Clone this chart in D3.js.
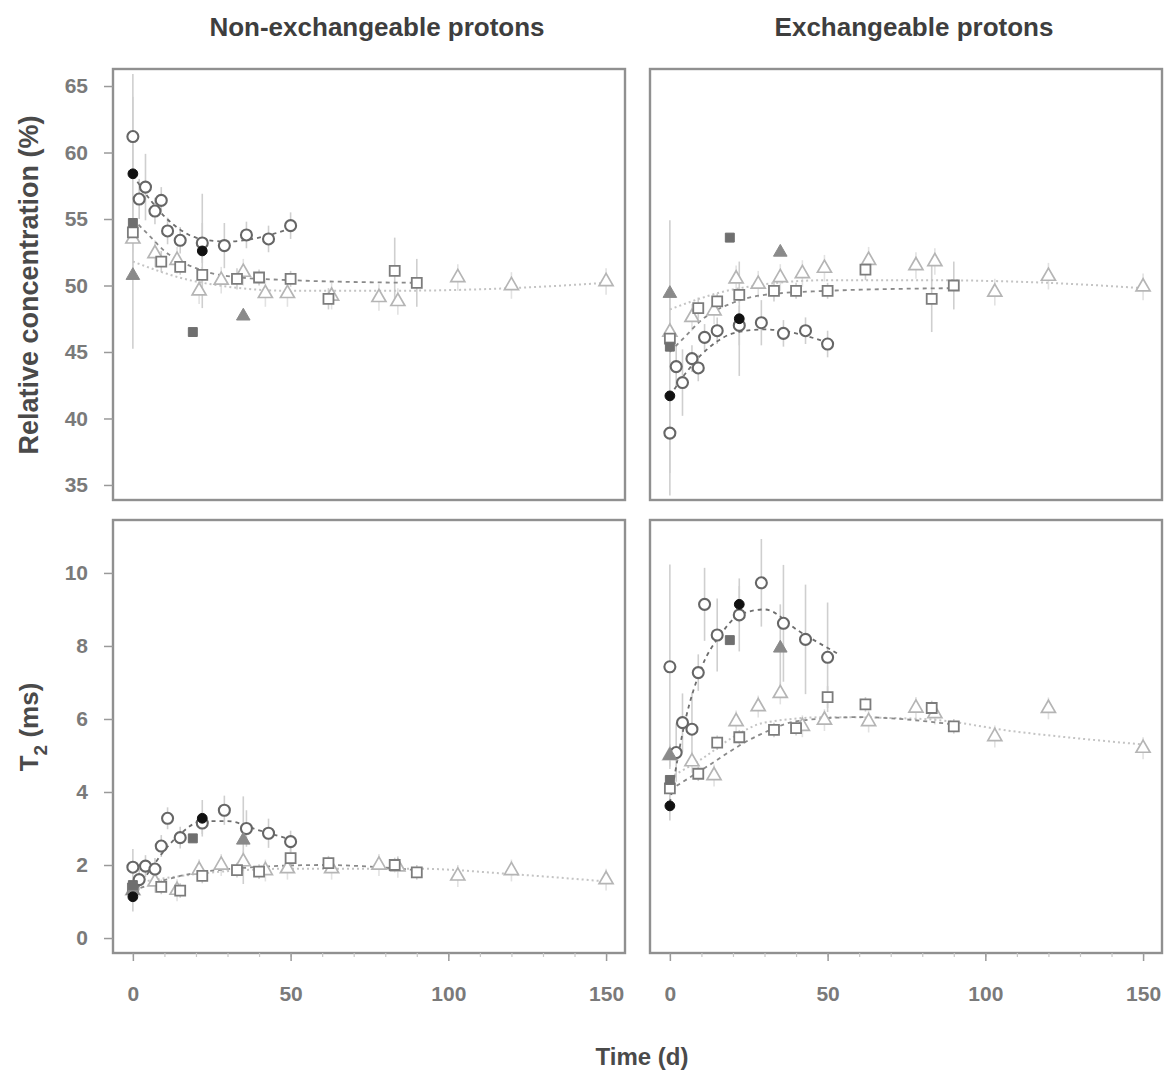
<!DOCTYPE html>
<meta charset="utf-8">
<style>
 body { margin: 0; background: #fff; }
 text { font-family: "Liberation Sans", Arial, sans-serif; font-weight: bold; }
</style>
<body>
<svg></svg>
<script src="https://cdn.jsdelivr.net/npm/d3@7"></script>
<script>

	// DATA ------------------------------------------------------------
	// open circles (sampled for 50 days)
	var circDays   = [0, 2, 4, 7, 9, 11, 15, 22, 29, 36, 43, 50];
	var circNE     = [61.2, 56.5, 57.4, 55.6, 56.4, 54.1, 53.4, 53.2, 53.0, 53.8, 53.5, 54.5];
	var circEX     = [38.9, 43.9, 42.7, 44.5, 43.8, 46.1, 46.6, 47.0, 47.2, 46.4, 46.6, 45.6];
	var circT2NE   = [1.94, 1.6, 1.97, 1.89, 2.52, 3.28, 2.75, 3.15, 3.5, 3.0, 2.87, 2.64];
	var circT2EX   = [7.43, 5.08, 5.9, 5.72, 7.27, 9.14, 8.3, 8.85, 9.73, 8.62, 8.18, 7.69];
	var circErrC   = [3, 1.5, 2.5, 1, 1, 1, 1, 1.5, 1.7, 1, 1, 1];
	var circErrT2NE = [0.5, 0.3, 0.3, 0.3, 0.3, 0.3, 0.3, 0.3, 0.4, 0.5, 0.4, 0.3];
	var circErrT2EX = [2.8, 0.8, 0.8, 1, 0.5, 1, 1, 1, 1.2, 1.6, 1.5, 1.5];

	// open squares (sampled for 90 days)
	var sqDays     = [0, 9, 15, 22, 33, 40, 50, 62, 83, 90];
	var sqNE       = [54.0, 51.8, 51.4, 50.8, 50.5, 50.6, 50.5, 49.0, 51.1, 50.2];
	var sqEX       = [46.0, 48.3, 48.8, 49.3, 49.6, 49.6, 49.6, 51.2, 49.0, 50.0];
	var sqT2NE     = [1.35, 1.4, 1.3, 1.7, 1.86, 1.82, 2.19, 2.05, 2.0, 1.8];
	var sqT2EX     = [4.1, 4.5, 5.35, 5.5, 5.7, 5.75, 6.6, 6.4, 6.3, 5.8];
	var sqErrC     = [0.8, 0.8, 0.6, 0.6, 0.8, 0.6, 0.6, 0.8, 2.5, 1.8];
	var sqErrT2    = [0.2, 0.2, 0.2, 0.2, 0.2, 0.2, 0.3, 0.2, 0.2, 0.2];

	// open triangles (sampled for 150 days)
	var triDays    = [0, 7, 14, 21, 28, 35, 42, 49, 63, 78, 84, 103, 120, 150];
	var triNE      = [53.5, 52.4, 51.9, 49.6, 50.4, 51.0, 49.4, 49.4, 49.2, 49.1, 48.8, 50.6, 50.0, 50.3];
	var triEX      = [46.5, 47.6, 48.1, 50.5, 50.1, 50.6, 50.9, 51.3, 51.9, 51.5, 51.8, 49.5, 50.7, 49.9];
	var triT2NE    = [1.3, 1.54, 1.31, 1.86, 2.0, 2.09, 1.85, 1.9, 1.9, 2.0, 1.95, 1.7, 1.85, 1.6];
	var triT2EX    = [5.0, 4.83, 4.45, 5.93, 6.34, 6.7, 5.8, 5.97, 5.93, 6.3, 6.15, 5.52, 6.29, 5.2];
	var triErrC    = [1, 1, 1, 1, 1, 1, 1, 1, 1, 1, 1, 1, 1, 1];
	var triErrT2   = [0.3, 0.3, 0.3, 0.3, 0.3, 0.3, 0.3, 0.3, 0.3, 0.3, 0.3, 0.3, 0.3, 0.3];

	// filled markers
	var blackDays  = [0, 22];
	var blackNE    = [58.4, 52.6];
	var blackEX    = [41.7, 47.5];
	var blackT2NE  = [1.13, 3.28];
	var blackT2EX  = [3.62, 9.14];
	var blackErrC  = [7.5, 4.3];
	var blackErrT2 = [0.4, 0.5];

	var gsqDays    = [0, 19];
	var gsqNE      = [54.7, 46.5];
	var gsqEX      = [45.4, 53.6];
	var gsqT2NE    = [1.45, 2.73];
	var gsqT2EX    = [4.33, 8.16];

	var gtriDays   = [0, 35];
	var gtriNE     = [50.75, 47.7];
	var gtriEX     = [49.4, 52.5];
	var gtriT2NE   = [1.3, 2.68];
	var gtriT2EX   = [5.0, 7.94];
	var gtriErrC   = [5.5, 0];
	var gtriErrT2  = [0.3, 1.2];

	// fitted curves as [day, value]
	var fitCircNE  = [[0,58.3],[5,56.6],[10,55.2],[15,54.2],[20,53.6],[30,53.3],[40,53.6],[50,54.3]];
	var fitSqNE    = [[0,55.0],[5,53.8],[10,52.6],[20,51.3],[30,50.7],[50,50.4],[90,50.2]];
	var fitTriNE   = [[0,51.8],[20,50.3],[50,49.6],[80,49.6],[120,49.8],[150,50.2]];
	var fitCircEX  = [[0,41.7],[5,43.4],[10,44.8],[15,45.8],[20,46.4],[30,46.7],[40,46.4],[50,45.7]];
	var fitSqEX    = [[0,45.0],[5,46.2],[10,47.4],[20,48.7],[30,49.3],[50,49.6],[90,49.8]];
	var fitTriEX   = [[0,48.2],[20,49.7],[50,50.4],[80,50.4],[120,50.2],[150,49.8]];
	var fitCircT2NE = [[0,1.2],[5,1.8],[10,2.4],[15,2.85],[22,3.2],[30,3.2],[40,2.95],[50,2.7]];
	var fitSqT2NE  = [[0,1.3],[15,1.7],[35,1.92],[60,2.0],[90,1.86]];
	var fitTriT2NE = [[0,1.5],[20,1.75],[50,1.9],[90,1.9],[120,1.75],[150,1.55]];
	var fitCircT2EX = [[0,3.7],[5,6.0],[10,7.4],[16,8.3],[22,8.85],[30,9.0],[41,8.4],[54,7.75]];
	var fitSqT2EX  = [[0,4.05],[10,4.6],[28,5.55],[41,5.95],[60,6.05],[90,5.85]];
	var fitTriT2EX = [[0,4.4],[10,4.9],[20,5.5],[30,5.9],[50,6.05],[80,6.0],[110,5.65],[150,5.3]];

	var concTicks = [35, 40, 45, 50, 55, 60, 65];
	var t2Ticks   = [0, 2, 4, 6, 8, 10];
	var dayTicks  = [0, 50, 100, 150];
	var dayMinor  = d3.range(0, 151, 10);
	var titles    = ["Non-exchangeable protons", "Exchangeable protons"];

	// LAYOUT ----------------------------------------------------------
	var width = 1170, height = 1080;
	var svg = d3.select("svg")
			.attr("width", width)
			.attr("height", height);

	var colX = [113, 650], panelW = 512;
	var rowY = [69, 520], rowH = [431, 433];
	var xDomain = [-6.3, 156];
	var yDomains = [[33.87, 66.28], [-0.41, 11.45]];

	var panels = [
		{col:0, row:0, circ:circNE, circErr:circErrC, sq:sqNE, sqErr:sqErrC, tri:triNE, triErr:triErrC,
		 black:blackNE, blackErr:blackErrC, gsq:gsqNE, gtri:gtriNE, gtriErr:gtriErrC,
		 fits:[fitTriNE, fitSqNE, fitCircNE], ticks:concTicks},
		{col:1, row:0, circ:circEX, circErr:circErrC, sq:sqEX, sqErr:sqErrC, tri:triEX, triErr:triErrC,
		 black:blackEX, blackErr:blackErrC, gsq:gsqEX, gtri:gtriEX, gtriErr:gtriErrC,
		 fits:[fitTriEX, fitSqEX, fitCircEX], ticks:concTicks},
		{col:0, row:1, circ:circT2NE, circErr:circErrT2NE, sq:sqT2NE, sqErr:sqErrT2, tri:triT2NE, triErr:triErrT2,
		 black:blackT2NE, blackErr:blackErrT2, gsq:gsqT2NE, gtri:gtriT2NE, gtriErr:gtriErrT2,
		 fits:[fitTriT2NE, fitSqT2NE, fitCircT2NE], ticks:t2Ticks},
		{col:1, row:1, circ:circT2EX, circErr:circErrT2EX, sq:sqT2EX, sqErr:sqErrT2, tri:triT2EX, triErr:triErrT2,
		 black:blackT2EX, blackErr:blackErrT2, gsq:gsqT2EX, gtri:gtriT2EX, gtriErr:gtriErrT2,
		 fits:[fitTriT2EX, fitSqT2EX, fitCircT2EX], ticks:t2Ticks}
	];

	// styles for the fit lines: triangles, squares, circles
	var fitStyle = [
		{stroke:"#c4c4c4", dash:"2,3", w:2},
		{stroke:"#8a8a8a", dash:"4,4", w:1.8},
		{stroke:"#6e6e6e", dash:"4,4", w:1.8}
	];

	// DRAWING ---------------------------------------------------------
	function zip(days, vals, errs)
	{
		return days.map(function(d, i){ return {t:d, v:vals[i], e:errs ? errs[i] : 0}; });
	}

	function styleTicks(sel)
	{
		sel.selectAll("text")
		   .attr("font-size", 21)
		   .attr("font-family", "'Liberation Sans', Arial, sans-serif")
		   .attr("font-weight", "bold")
		   .attr("fill", "#7a7a7a");
	}

	function drawPanel(p, idx)
	{
		var x0 = colX[p.col], y0 = rowY[p.row], h = rowH[p.row];
		var x = d3.scaleLinear().domain(xDomain).range([x0, x0 + panelW]);
		var y = d3.scaleLinear().domain(yDomains[p.row]).range([y0 + h, y0]);

		svg.append("clipPath").attr("id", "clip" + idx)
		   .append("rect").attr("x", x0).attr("y", y0).attr("width", panelW).attr("height", h);

		var g = svg.append("g").attr("clip-path", "url(#clip" + idx + ")");

		// error bars
		var errSets = [
			zip(triDays, p.tri, p.triErr),
			zip(sqDays, p.sq, p.sqErr),
			zip(circDays, p.circ, p.circErr),
			zip(blackDays, p.black, p.blackErr),
			zip(gtriDays, p.gtri, p.gtriErr)
		];
		errSets.forEach(function(set, k)
		{
			g.selectAll(null)
			 .data(set.filter(function(d){ return d.e > 0; }))
			 .enter()
			 .append("line")
			 .attr("x1", function(d){ return x(d.t); })
			 .attr("x2", function(d){ return x(d.t); })
			 .attr("y1", function(d){ return y(d.v - d.e); })
			 .attr("y2", function(d){ return y(d.v + d.e); })
			 .attr("stroke", k == 0 ? "#e2e2e2" : "#cfcfcf")
			 .attr("stroke-width", 1.6);
		});

		// fitted curves
		var line = d3.line()
			.x(function(d){ return x(d[0]); })
			.y(function(d){ return y(d[1]); })
			.curve(d3.curveMonotoneX);

		p.fits.forEach(function(f, k)
		{
			g.append("path")
			 .attr("d", line(f))
			 .attr("fill", "none")
			 .attr("stroke", fitStyle[k].stroke)
			 .attr("stroke-width", fitStyle[k].w)
			 .attr("stroke-dasharray", fitStyle[k].dash);
		});

		// markers
		function markers(data, type, size, fill, stroke, sw)
		{
			g.selectAll(null)
			 .data(data)
			 .enter()
			 .append("path")
			 .attr("transform", function(d){ return "translate(" + x(d.t) + "," + y(d.v) + ")"; })
			 .attr("d", d3.symbol().type(type).size(size))
			 .attr("fill", fill)
			 .attr("stroke", stroke)
			 .attr("stroke-width", sw);
		}

		markers(zip(triDays, p.tri), d3.symbolTriangle, 85, "#fff", "#b5b5b5", 1.7);
		markers(zip(sqDays, p.sq), d3.symbolSquare, 100, "#fff", "#7c7c7c", 1.8);
		markers(zip(circDays, p.circ), d3.symbolCircle, 95, "#fff", "#666", 2.1);
		markers(zip(gtriDays, p.gtri), d3.symbolTriangle, 80, "#8a8a8a", "#8a8a8a", 1);
		markers(zip(gsqDays, p.gsq), d3.symbolSquare, 80, "#6f6f6f", "#6f6f6f", 1);
		markers(zip(blackDays, p.black), d3.symbolCircle, 75, "#111", "#111", 1);

		// frame
		svg.append("rect")
		   .attr("x", x0).attr("y", y0)
		   .attr("width", panelW).attr("height", h)
		   .attr("fill", "none")
		   .attr("stroke", "#909090")
		   .attr("stroke-width", 2.4);

		// y axis on the left column
		if(p.col == 0)
		{
			var ya = svg.append("g")
				.attr("transform", "translate(" + x0 + ",0)")
				.call(d3.axisLeft(y).tickValues(p.ticks).tickSize(9).tickPadding(16));
			ya.select(".domain").remove();
			ya.selectAll("line").attr("stroke", "#9a9a9a").attr("stroke-width", 1.5);
			styleTicks(ya);
		}

		// x axis on the bottom row
		if(p.row == 1)
		{
			var xm = svg.append("g")
				.attr("transform", "translate(0," + (y0 + h) + ")")
				.call(d3.axisBottom(x).tickValues(dayMinor).tickSize(4).tickFormat(""));
			xm.select(".domain").remove();
			xm.selectAll("line").attr("stroke", "#c8c8c8").attr("stroke-width", 1.2);

			var xa = svg.append("g")
				.attr("transform", "translate(0," + (y0 + h) + ")")
				.call(d3.axisBottom(x).tickValues(dayTicks).tickSize(8).tickPadding(25));
			xa.select(".domain").remove();
			xa.selectAll("line").attr("stroke", "#9a9a9a").attr("stroke-width", 1.5);
			styleTicks(xa);
		}

		// column title
		if(p.row == 0)
		{
			svg.append("text")
			   .attr("x", x0 + panelW / 2 + 8)
			   .attr("y", 36)
			   .attr("text-anchor", "middle")
			   .attr("font-size", 26)
			   .attr("fill", "#3e3e3e")
			   .text(titles[p.col]);
		}
	}

	panels.forEach(drawPanel);

	// axis titles
	svg.append("text")
	   .attr("transform", "translate(38,285) rotate(-90)")
	   .attr("text-anchor", "middle")
	   .attr("font-size", 27)
	   .attr("fill", "#4a4a4a")
	   .text("Relative concentration (%)");

	var t2 = svg.append("text")
	   .attr("transform", "translate(38,727) rotate(-90)")
	   .attr("text-anchor", "middle")
	   .attr("font-size", 26)
	   .attr("fill", "#4a4a4a");
	t2.append("tspan").text("T");
	t2.append("tspan").attr("font-size", 19).attr("dy", 9).text("2");
	t2.append("tspan").attr("dy", -9).text(" (ms)");

	svg.append("text")
	   .attr("x", 642)
	   .attr("y", 1065)
	   .attr("text-anchor", "middle")
	   .attr("font-size", 24)
	   .attr("fill", "#4a4a4a")
	   .text("Time (d)");

</script>
</body>
</html>
